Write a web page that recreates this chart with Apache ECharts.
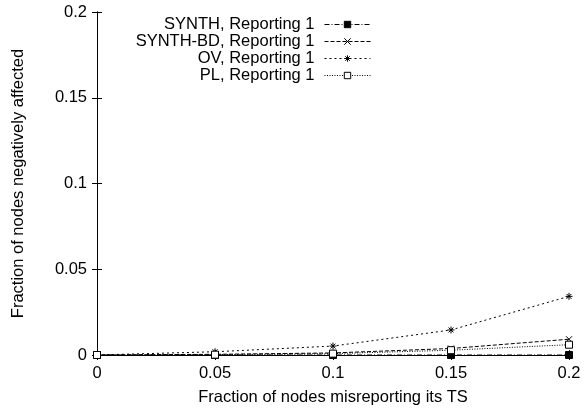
<!DOCTYPE html>
<html><head><meta charset="utf-8">
<script src="https://cdn.jsdelivr.net/npm/echarts@6/dist/echarts.min.js"></script>
<style>html,body{margin:0;padding:0;background:#fff}#c{width:586px;height:411px}</style>
</head><body><div id="c"></div>
<script>
const xValues = [0, 0.05, 0.1, 0.15, 0.2];
const seriesNames = ['SYNTH, Reporting 1', 'SYNTH-BD, Reporting 1', 'OV, Reporting 1', 'PL, Reporting 1'];
const synth = [0, 0, 0, 0, 0];
const synthBD = [0, 0.0004, 0.0012, 0.0038, 0.0092];
const ov = [0, 0.0019, 0.0052, 0.0146, 0.0342];
const pl = [0, 0.0002, 0.0008, 0.0028, 0.006];
const tickLabels = ['0', '0.05', '0.1', '0.15', '0.2'];

const FONT = 'Liberation Sans';
const FS = 16.5;
const pair = arr => xValues.map((x, i) => [x, arr[i]]);
const crossPath = 'path://M0,0L10,10M10,0L0,10';
const starPath = 'path://M0,5L10,5M5,0L5,10M1.5,1.5L8.5,8.5M8.5,1.5L1.5,8.5';
const fmt = v => { const i = Math.round(v / 0.05); return tickLabels[i] !== undefined ? tickLabels[i] : ''; };

function mk(name, data, symbol, size, lineType, itemStyle) {
  return {
    name, type: 'line', data: pair(data), symbol, symbolSize: size,
    showAllSymbol: true, animation: false,
    lineStyle: { color: '#000', width: 1, type: lineType },
    itemStyle: Object.assign({ color: '#000', borderColor: '#000', borderWidth: 1, borderType: 'solid' }, itemStyle || {}),
    xAxisIndex: 0, yAxisIndex: 0
  };
}

const chart = echarts.init(document.getElementById('c'), null, { renderer: 'canvas' });
const axisCommon = {
  type: 'value', min: 0, max: 0.2, interval: 0.05,
  axisLine: { show: true, lineStyle: { color: '#000', width: 1 } },
  axisTick: { show: true, inside: true, length: 5, lineStyle: { color: '#000' } },
  splitLine: { show: false }
};
chart.setOption({
  animation: false,
  backgroundColor: '#fff',
  grid: { left: 97, right: 17, top: 12, bottom: 53 },
  xAxis: [
    Object.assign({}, axisCommon, {
      position: 'bottom',
      name: 'Fraction of nodes misreporting its TS', nameLocation: 'middle', nameGap: 34,
      nameTextStyle: { fontFamily: FONT, fontSize: FS, color: '#000' },
      axisLabel: { formatter: fmt, fontFamily: FONT, fontSize: FS, color: '#000', margin: 10 }
    }),
    Object.assign({}, axisCommon, { position: 'top', axisLabel: { show: false } })
  ],
  yAxis: [
    Object.assign({}, axisCommon, {
      position: 'left',
      name: 'Fraction of nodes negatively affected', nameLocation: 'middle', nameGap: 70,
      nameTextStyle: { fontFamily: FONT, fontSize: FS, color: '#000' },
      axisLabel: { formatter: fmt, fontFamily: FONT, fontSize: FS, color: '#000', margin: 10 }
    }),
    Object.assign({}, axisCommon, { position: 'right', axisLabel: { show: false } })
  ],
  legend: {
    orient: 'vertical', align: 'right', right: 215, top: 16, padding: 0,
    itemWidth: 46, itemHeight: 8, itemGap: 0,
    textStyle: { fontFamily: FONT, fontSize: FS, color: '#000', padding: [0, 5, 0, 0] },
    lineStyle: { width: 1 },
    itemStyle: { borderType: 'solid', borderWidth: 1 },
    selectedMode: false,
    data: seriesNames
  },
  series: [
    mk(seriesNames[0], synth, 'rect', 7, [5, 2, 1, 2]),
    mk(seriesNames[1], synthBD, crossPath, 6, [4, 2]),
    mk(seriesNames[2], ov, starPath, 7, [2, 3]),
    mk(seriesNames[3], pl, 'rect', 7, [1, 1.5], { color: '#fff' })
  ]
});
</script></body></html>
